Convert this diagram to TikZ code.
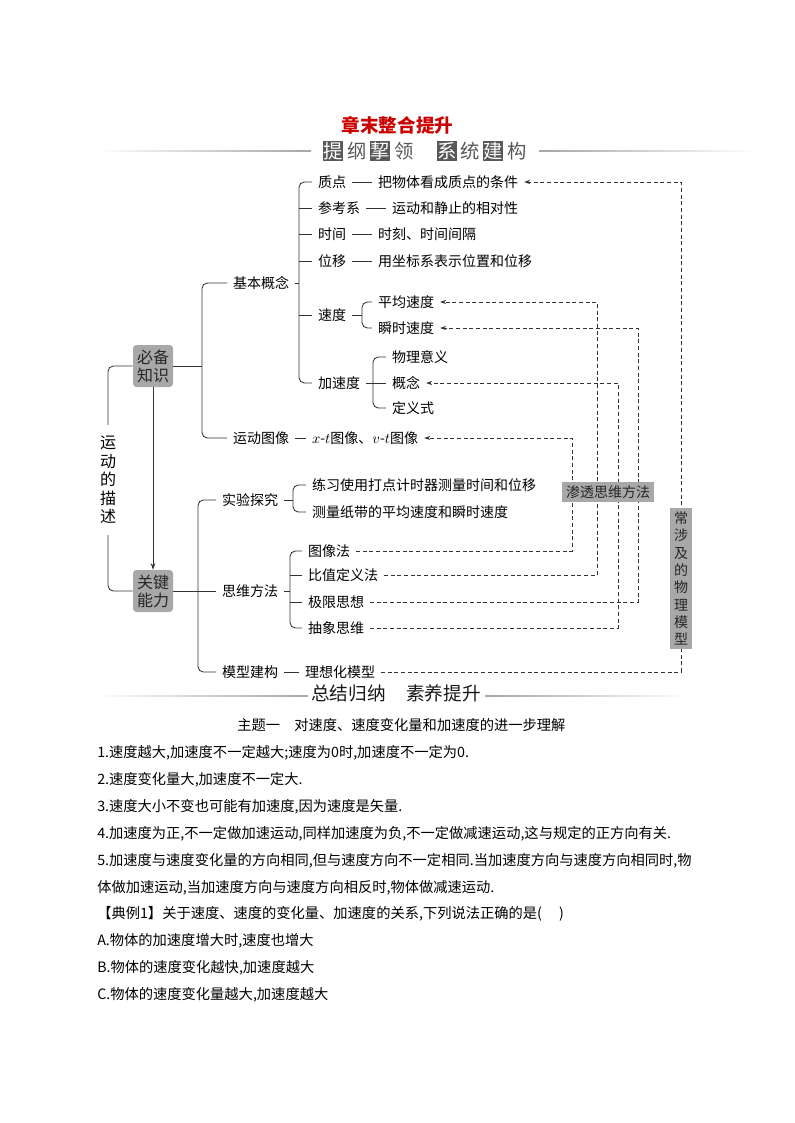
\documentclass[tikz,border=0pt]{standalone}
\usepackage{fontspec}
\setmainfont{Noto Sans CJK SC}
\usetikzlibrary{arrows.meta}
\definecolor{boxgray}{RGB}{168,168,168}
\definecolor{headgray}{RGB}{88,88,88}
\definecolor{titlered}{RGB}{204,0,0}
\begin{document}
\begin{tikzpicture}[x=0.75pt, y=-0.75pt,
    txt/.style={anchor=west, font=\fontsize{10.5}{12}\selectfont, inner xsep=2.5pt, inner ysep=1pt, outer xsep=2pt},
    ln/.style={line width=0.65pt, black!80, rounded corners=4pt},
    dsh/.style={line width=0.6pt, black!80, dash pattern=on 3pt off 2pt, -{Stealth[length=4.5pt, width=3pt]}},
    gbox/.style={fill=boxgray, text=black!85, rounded corners=2.5pt, align=center, font=\fontsize{12}{13.5}\selectfont, minimum width=30pt, minimum height=31.5pt, inner sep=1pt},
    tag/.style={fill=boxgray, text=black!85, inner xsep=3pt, inner ysep=1pt, font=\fontsize{10.5}{13}\selectfont},
    hbox/.style={fill=headgray, text=white, inner sep=0pt, minimum size=15pt, font=\fontsize{14.5}{15}\selectfont},
    htxt/.style={text=headgray, inner sep=0pt, minimum size=15pt, font=\fontsize{14.5}{15}\selectfont},
    para/.style={anchor=west, inner sep=0pt, font=\fontsize{10.7}{12}\selectfont}]
    \useasboundingbox (0,0) rectangle (794,1123);

    % headings
    \node[text=titlered, font=\fontsize{13.9}{15}\selectfont\bfseries] (title) at (397.5,125.5) {章末整合提升};
    \foreach \x/\c/\s in {333/提/hbox, 357/纲/htxt, 380/挈/hbox, 404/领/htxt, 447/系/hbox, 470/统/htxt, 493/建/hbox, 517/构/htxt}
        \node[\s] (h\x) at (\x,151) {\c};
    \shade[left color=white, right color=gray!70] (95,150.2) rectangle (311,151.8);
    \shade[left color=gray!70, right color=white] (539,150.2) rectangle (755,151.8);

    % left column
    \node[gbox] (bibei) at (153,366) {必备\\知识};
    \node[gbox] (guanjian) at (153,591) {关键\\能力};
    \node[align=center, inner xsep=1pt, inner ysep=8pt, font=\fontsize{12}{13.9}\selectfont] (miaoshu) at (108,480) {运\\动\\的\\描\\述};
    \draw[ln] (bibei.west) -| (miaoshu.north);
    \draw[ln] (miaoshu.south) |- (guanjian.west);
    \draw[ln, -{Stealth[length=5pt, width=3.5pt]}] (bibei) -- (guanjian);

    % upper tree
    \node[txt] (jiben) at (227,283) {基本概念};
    \node[txt] (yundong) at (227,438) {运动图像};
    \node[txt] (zhidian) at (312,182) {质点};
    \node[txt] (zhidian2) at (372,182) {把物体看成质点的条件};
    \node[txt] (cankao) at (312,208) {参考系};
    \node[txt] (cankao2) at (386,208) {运动和静止的相对性};
    \node[txt] (shijian) at (312,234) {时间};
    \node[txt] (shijian2) at (372,234) {时刻、时间间隔};
    \node[txt] (weiyi) at (312,261) {位移};
    \node[txt] (weiyi2) at (372,261) {用坐标系表示位置和位移};
    \node[txt] (sudu) at (312,315) {速度};
    \node[txt] (pingjun) at (372,302) {平均速度};
    \node[txt] (shunshi) at (372,328) {瞬时速度};
    \node[txt] (jiasu) at (312,383) {加速度};
    \node[txt] (yiyi) at (386,357) {物理意义};
    \node[txt] (gainian) at (386,383) {概念};
    \node[txt] (dingyi) at (386,408) {定义式};
    \node[txt] (tuxiang) at (306,438) {$x$-$t$图像、$v$-$t$图像};

    \coordinate (b1) at (202,366);
    \coordinate (b2) at (299,283);
    \coordinate (b3) at (362,315);
    \coordinate (b4) at (373,383);
    \draw[ln] (jiben.west) -| (b1) |- (yundong.west);
    \draw[ln] (bibei.east) -- (b1);
    \draw[ln] (zhidian.west) -| (b2) |- (jiasu.west);
    \draw[ln] (jiben.east) -- (b2);
    \foreach \n in {cankao,shijian,weiyi,sudu}
        \draw[ln] (b2 |- \n.west) -- (\n.west);
    \draw[ln] (pingjun.west) -| (b3) |- (shunshi.west);
    \draw[ln] (sudu.east) -- (b3);
    \draw[ln] (yiyi.west) -| (b4) |- (dingyi.west);
    \draw[ln] (jiasu.east) -- (gainian.west);
    \foreach \a/\b in {zhidian/zhidian2, cankao/cankao2, shijian/shijian2, weiyi/weiyi2, yundong/tuxiang}
        \draw[ln] (\a.east) -- (\b.west);

    % lower tree
    \node[txt] (shiyan) at (216,500) {实验探究};
    \node[txt] (siwei) at (216,591) {思维方法};
    \node[txt] (moxing) at (216,672) {模型建构};
    \node[txt] (lianxi) at (306,485) {练习使用打点计时器测量时间和位移};
    \node[txt] (celiang) at (306,512) {测量纸带的平均速度和瞬时速度};
    \node[txt] (txf) at (302,551) {图像法};
    \node[txt] (bzf) at (302,575) {比值定义法};
    \node[txt] (jxsx) at (302,602) {极限思想};
    \node[txt] (cxsw) at (302,628) {抽象思维};
    \node[txt] (lxh) at (299,672) {理想化模型};

    \coordinate (c1) at (198,591);
    \coordinate (c2) at (293,500);
    \coordinate (c3) at (290,591);
    \draw[ln] (shiyan.west) -| (c1) |- (moxing.west);
    \draw[ln] (guanjian.east) -- (siwei.west);
    \draw[ln] (lianxi.west) -| (c2) |- (celiang.west);
    \draw[ln] (shiyan.east) -- (c2);
    \draw[ln] (txf.west) -| (c3) |- (cxsw.west);
    \draw[ln] (siwei.east) -- (c3);
    \foreach \n in {bzf,jxsx}
        \draw[ln] (c3 |- \n.west) -- (\n.west);
    \draw[ln] (moxing.east) -- (lxh.west);

    % dashed links
    \coordinate (v1) at (572,0);
    \coordinate (v2) at (597,0);
    \coordinate (v3) at (618,0);
    \coordinate (v4) at (638,0);
    \coordinate (v5) at (681,0);
    \draw[dsh] (txf.east) -| (v1 |- tuxiang.east) -- (tuxiang.east);
    \draw[dsh] (bzf.east) -| (v2 |- pingjun.east) -- (pingjun.east);
    \draw[dsh] (cxsw.east) -| (v3 |- gainian.east) -- (gainian.east);
    \draw[dsh] (jxsx.east) -| (v4 |- shunshi.east) -- (shunshi.east);
    \draw[dsh] (lxh.east) -| (v5 |- zhidian2.east) -- (zhidian2.east);

    \node[tag, minimum height=15pt] (shentou) at (608,492) {渗透思维方法};
    \node[tag, align=center, minimum width=16.5pt, minimum height=105.75pt, font=\fontsize{10.5}{13}\selectfont] (wuli) at (681,578.5) {常\\涉\\及\\的\\物\\理\\模\\型};

    % summary
    \node[font=\fontsize{14}{15}\selectfont, text=black!90] (zongjie) at (396,693) {总结归纳\hspace{1.1em}素养提升};
    \shade[left color=white, right color=gray!70] (95,695) rectangle (308,696.5);
    \shade[left color=gray!70, right color=white] (485,695) rectangle (690,696.5);
    \node[para] (zhuti) at (237,725) {主题一\hspace{1em}对速度、速度变化量和加速度的进一步理解};
    \node[para] (p1) at (97,753) {1.速度越大,加速度不一定越大;速度为0时,加速度不一定为0.};
    \node[para] (p2) at (97,780) {2.速度变化量大,加速度不一定大.};
    \node[para] (p3) at (97,807) {3.速度大小不变也可能有加速度,因为速度是矢量.};
    \node[para] (p4) at (97,834) {4.加速度为正,不一定做加速运动,同样加速度为负,不一定做减速运动,这与规定的正方向有关.};
    \node[para] (p5) at (97,861) {5.加速度与速度变化量的方向相同,但与速度方向不一定相同.当加速度方向与速度方向相同时,物};
    \node[para] (p6) at (97,888) {体做加速运动,当加速度方向与速度方向相反时,物体做减速运动.};
    \node[para] (li1) at (97,914) {【典例1】关于速度、速度的变化量、加速度的关系,下列说法正确的是(\hspace{1.2em})};
    \node[para] (xa) at (97,941) {A.物体的加速度增大时,速度也增大};
    \node[para] (xb) at (97,968) {B.物体的速度变化越快,加速度越大};
    \node[para] (xc) at (97,995) {C.物体的速度变化量越大,加速度越大};
\end{tikzpicture}
\end{document}
